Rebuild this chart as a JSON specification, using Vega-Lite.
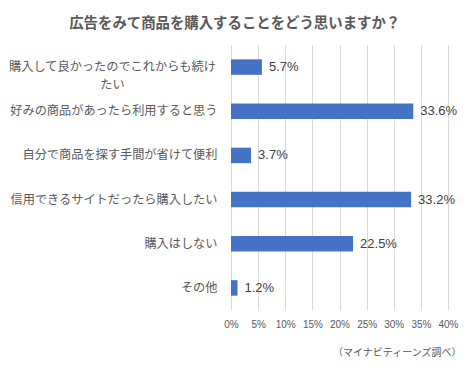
{
  "$schema": "https://vega.github.io/schema/vega-lite/v6.json",
  "autosize": {"type": "none"},
  "width": 217,
  "height": 265,
  "padding": {"left": 231, "top": 45, "right": 22, "bottom": 56},
  "background": "#ffffff",
  "config": {
    "font": "Liberation Sans, Noto Sans CJK JP",
    "view": {"stroke": null}
  },
  "title": {
    "text": "広告をみて商品を購入することをどう思いますか？",
    "fontSize": 14.4,
    "fontWeight": "bold",
    "color": "#595959",
    "font": "Noto Sans CJK JP",
    "anchor": "middle",
    "frame": "bounds",
    "offset": 14
  },
  "data": {
    "values": [
      {"item": "購入して良かったのでこれからも続けたい", "pct": 5.7},
      {"item": "好みの商品があったら利用すると思う", "pct": 33.6},
      {"item": "自分で商品を探す手間が省けて便利", "pct": 3.7},
      {"item": "信用できるサイトだったら購入したい", "pct": 33.2},
      {"item": "購入はしない", "pct": 22.5},
      {"item": "その他", "pct": 1.2}
    ]
  },
  "encoding": {
    "y": {
      "field": "item",
      "type": "nominal",
      "sort": null,
      "scale": {"paddingInner": 0.65, "paddingOuter": 0.325},
      "axis": {
        "title": null,
        "domain": false,
        "ticks": false,
        "labelPadding": {"condition": {"test": "datum.value == '購入して良かったのでこれからも続けたい'", "value": 119}, "value": 14},
        "labelAlign": {"condition": {"test": "datum.value == '購入して良かったのでこれからも続けたい'", "value": "center"}, "value": "right"},
        "labelFontSize": 12.2,
        "labelColor": "#595959",
        "labelLimit": 0,
        "labelLineHeight": 18,
        "labelFont": "Noto Sans CJK JP",
        "labelExpr": "datum.value == '購入して良かったのでこれからも続けたい' ? ['購入して良かったのでこれからも続け', 'たい'] : datum.value"
      }
    },
    "x": {
      "field": "pct",
      "type": "quantitative",
      "scale": {"domain": [0, 40], "nice": false},
      "axis": {
        "values": [0, 5, 10, 15, 20, 25, 30, 35, 40],
        "labelExpr": "datum.value + '%'",
        "labelOverlap": false,
        "labelBound": false,
        "labelFlush": false,
        "domain": false,
        "ticks": false,
        "grid": true,
        "gridColor": "#d9d9d9",
        "gridWidth": 1,
        "labelFontSize": 10,
        "labelColor": "#595959",
        "labelPadding": 9,
        "title": "（マイナビティーンズ調べ）",
        "titleFont": "Noto Sans CJK JP",
        "titleFontSize": 10,
        "titleFontWeight": "normal",
        "titleColor": "#595959",
        "titleAlign": "right",
        "titleBaseline": "middle",
        "titleX": 230,
        "titleY": 42
      }
    }
  },
  "layer": [
    {"mark": {"type": "bar", "color": "#4472C4"}},
    {
      "mark": {"type": "text", "align": "left", "dx": 7, "fontSize": 13, "color": "#404040", "text": {"expr": "format(datum.pct, '.1f') + '%'"}}
    }
  ]
}
